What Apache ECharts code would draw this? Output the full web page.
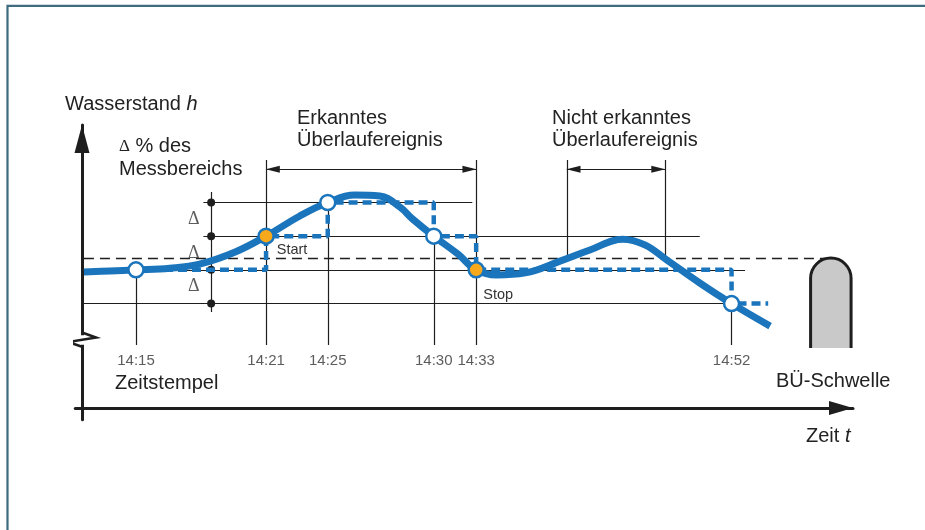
<!DOCTYPE html>
<html>
<head>
<meta charset="utf-8">
<script src="https://cdn.jsdelivr.net/npm/echarts@6/dist/echarts.min.js"></script>
<style>
  html, body { margin: 0; padding: 0; background: #fff; }
  #chart { width: 925px; height: 530px; }
</style>
</head>
<body>
<div id="chart"></div>
<script>
// Zeitstempel der Messungen (Lage auf der schematischen Zeitachse)
const stampLabels = ['14:15', '14:21', '14:25', '14:30', '14:33', '14:52']
const stampX = [5.6, 19.1, 25.5, 36.5, 40.9, 67.4]
// gespeicherter Messwert je Zeitstempel (Delta-Raster)
const stampLevel = [41, 51, 61, 51, 41, 31]
const stampFilled = [false, true, false, false, true, false]
const stampNote = ['', 'Start', '', '', 'Stop', '']
// Delta-Stufen und BÜ-Schwelle
const levels = [31, 41, 51, 61]
const deltaMid = [36, 46, 56]
const thresholdLevel = 44.5
// nicht erkanntes Ereignis (Schwelle über-/unterschritten)
const missedEvent = [50.3, 60.5]
// tatsächlicher Wasserstandsverlauf
const curveX = [0.2, 2.9, 5.6, 9.1, 12.2, 15.9, 19.1, 22.6, 25.5, 28.3, 30.9, 33.0, 34.3, 36.5, 39.0, 40.9, 43.0, 46.0, 49.6, 52.7, 56.1, 58.4, 60.7, 64.1, 67.4, 71.4]
const curveY = [40.4, 40.7, 41.0, 41.5, 42.7, 46.3, 51.0, 57.0, 61.0, 63.2, 62.9, 59.6, 56.1, 51.0, 45.7, 41.0, 39.5, 40.1, 43.6, 46.9, 50.1, 48.4, 43.9, 37.1, 31.0, 24.3]

const BLUE = '#1b75bc'
const ORANGE = '#f7a81b'
const INK = '#1e1e1e'
const FONT = '"Liberation Sans", Arial, sans-serif'

const chart = echarts.init(document.getElementById('chart'))

// schematische Hilfslinien
const levelFrom = [0.2, 0.2, 12.6, 12.6]
const levelTo = [67.9, 68.8, 64.1, 40.5]
const stampTop = [38.6, 73.6, 61, 51, 73.6, 31]
const tickBottom = 18.7
const bracketY = 70.9
const deltaX = 13.4
const arrowHalf = 0.7

const thin = []
levels.forEach((lv, i) => thin.push({ coords: [[levelFrom[i], lv], [levelTo[i], lv]] }))
stampX.forEach((x, i) => thin.push({ coords: [[x, stampTop[i]], [x, tickBottom]] }))
missedEvent.forEach(x => thin.push({ coords: [[x, 73.6], [x, thresholdLevel]] }))
thin.push({ coords: [[deltaX, 64.1], [deltaX, 28.5]] })

const bracketEnds = [[stampX[1], stampX[4]], missedEvent]
const brackets = bracketEnds.map(b => ({ coords: [[b[0], bracketY], [b[1], bracketY]] }))
const arrowHeads = []
bracketEnds.forEach(b => {
  arrowHeads.push({ value: [b[0] + arrowHalf, bracketY], symbolRotate: 90 })
  arrowHeads.push({ value: [b[1] - arrowHalf, bracketY], symbolRotate: -90 })
})

const stepData = stampX.map((x, i) => [x, stampLevel[i]])
stepData.push([71.2, 31])

const markers = stampX.map((x, i) => ({
  value: [x, stampLevel[i]],
  itemStyle: { color: stampFilled[i] ? ORANGE : '#fff', borderColor: BLUE, borderWidth: 2.5, opacity: 1 },
  label: stampNote[i] ? {
    show: true,
    formatter: stampNote[i],
    position: 'inside',
    offset: stampNote[i] === 'Start' ? [26, 14] : [22, 25],
    color: '#333',
    fontSize: 14.5,
    fontFamily: FONT
  } : { show: false }
}))

chart.setOption({
  animation: false,
  grid: { left: 75.25, right: 72, top: 125, bottom: 110.2 },
  xAxis: {
    type: 'value',
    min: -0.7,
    max: 80,
    axisLine: {
      symbol: ['none', 'triangle'],
      symbolSize: [14, 24],
      symbolOffset: [0, -12],
      lineStyle: { color: INK, width: 3 }
    },
    axisTick: { show: false },
    axisLabel: { show: false },
    splitLine: { show: false }
  },
  yAxis: {
    type: 'value',
    min: -3.5,
    max: 84,
    axisLine: {
      symbol: ['none', 'triangle'],
      symbolSize: [15, 28],
      symbolOffset: [0, -14],
      lineStyle: { color: INK, width: 3 }
    },
    axisTick: { show: false },
    axisLabel: { show: false },
    splitLine: { show: false }
  },
  graphic: [
    {
      type: 'polyline',
      shape: { points: [[7.5, 530], [7.5, 5.8], [925, 5.8]] },
      style: { stroke: '#3e6b80', lineWidth: 2.2, fill: null }
    },
    {
      type: 'text', x: 65, y: 104,
      style: {
        text: 'Wasserstand {i|h}', font: '20px ' + FONT, fill: '#222', verticalAlign: 'middle',
        rich: { i: { font: 'italic 20px ' + FONT, fill: '#222' } }
      }
    },
    {
      type: 'text', x: 119, y: 135,
      style: {
        text: '{d|Δ} % des\nMessbereichs', font: '20px ' + FONT, fill: '#222', lineHeight: 23, verticalAlign: 'top',
        rich: { d: { font: '17px "Liberation Serif", serif', fill: '#222' } }
      }
    },
    {
      type: 'text', x: 297, y: 107,
      style: { text: 'Erkanntes\nÜberlaufereignis', font: '20px ' + FONT, fill: '#222', lineHeight: 22, verticalAlign: 'top' }
    },
    {
      type: 'text', x: 552, y: 107,
      style: { text: 'Nicht erkanntes\nÜberlaufereignis', font: '20px ' + FONT, fill: '#222', lineHeight: 22, verticalAlign: 'top' }
    },
    {
      type: 'text', x: 115, y: 383,
      style: { text: 'Zeitstempel', font: '20px ' + FONT, fill: '#222', verticalAlign: 'middle' }
    },
    {
      type: 'text', x: 776, y: 381,
      style: { text: 'BÜ-Schwelle', font: '20px ' + FONT, fill: '#222', verticalAlign: 'middle' }
    },
    {
      type: 'text', x: 806, y: 436,
      style: {
        text: 'Zeit {i|t}', font: '20px ' + FONT, fill: '#222', verticalAlign: 'middle',
        rich: { i: { font: 'italic 20px ' + FONT, fill: '#222' } }
      }
    }
  ],
  series: [
    {
      type: 'lines',
      coordinateSystem: 'cartesian2d',
      z: 1,
      lineStyle: { color: INK, width: 1.2, opacity: 1 },
      data: thin.concat(brackets)
    },
    {
      type: 'lines',
      coordinateSystem: 'cartesian2d',
      z: 1,
      lineStyle: { color: INK, width: 1.4, type: [10, 6], opacity: 1 },
      data: [{ coords: [[0.2, thresholdLevel], [78, thresholdLevel]] }]
    },
    {
      type: 'scatter',
      z: 2,
      symbol: 'triangle',
      symbolSize: [7, 14],
      itemStyle: { color: INK, opacity: 1 },
      data: arrowHeads
    },
    {
      // Achsenbruch
      type: 'lines',
      coordinateSystem: 'cartesian2d',
      polyline: true,
      z: 3,
      lineStyle: { color: '#fff', width: 7, opacity: 1 },
      data: [{ coords: [[0, 21.6], [0, 18.8]] }]
    },
    {
      type: 'lines',
      coordinateSystem: 'cartesian2d',
      polyline: true,
      z: 3,
      lineStyle: { color: INK, width: 2.6, opacity: 1 },
      data: [{ coords: [[0, 22.4], [1.45, 20.9], [-1.45, 19.6], [0, 18.2]] }]
    },
    {
      type: 'scatter',
      z: 2,
      symbolSize: 8,
      itemStyle: { color: INK, opacity: 1 },
      data: levels.map(lv => [deltaX, lv])
    },
    {
      type: 'line',
      z: 3,
      step: 'end',
      showSymbol: false,
      lineStyle: { color: BLUE, width: 4.5, type: [9, 5] },
      data: stepData
    },
    {
      type: 'line',
      z: 4,
      smooth: 0.4,
      showSymbol: false,
      lineStyle: { color: BLUE, width: 7, cap: 'butt' },
      data: curveX.map((x, i) => [x, curveY[i]])
    },
    {
      type: 'scatter',
      z: 5,
      symbolSize: 15,
      data: markers
    },
    {
      type: 'scatter',
      z: 5,
      symbolSize: 1,
      itemStyle: { color: 'rgba(0,0,0,0)' },
      label: { show: true, position: 'inside', formatter: '{b}', color: '#333', fontSize: 15, fontFamily: FONT },
      data: stampX.map((x, i) => ({ name: stampLabels[i], value: [x, 13.9] }))
    },
    {
      type: 'scatter',
      z: 5,
      symbolSize: 1,
      itemStyle: { color: 'rgba(0,0,0,0)' },
      label: { show: true, position: 'inside', formatter: 'Δ', color: '#333', fontSize: 18, fontFamily: '"Liberation Serif", serif' },
      data: deltaMid.map(m => [11.6, m])
    },
    {
      // BÜ-Schwelle
      type: 'custom',
      z: 2,
      renderItem: function (params, api) {
        const bl = api.coord([api.value(0), api.value(3)])
        const tr = api.coord([api.value(1), api.value(2)])
        const r = (tr[0] - bl[0]) / 2
        const path = 'M' + bl[0] + ',' + bl[1] + ' L' + bl[0] + ',' + (tr[1] + r) +
          ' A' + r + ',' + r + ' 0 0 1 ' + tr[0] + ',' + (tr[1] + r) + ' L' + tr[0] + ',' + bl[1]
        return {
          type: 'path',
          shape: { pathData: path },
          style: { fill: '#c9c9c9', stroke: INK, lineWidth: 3 }
        }
      },
      data: [[75.6, 79.8, thresholdLevel, 17.8]]
    }
  ]
})
</script>
</body>
</html>
